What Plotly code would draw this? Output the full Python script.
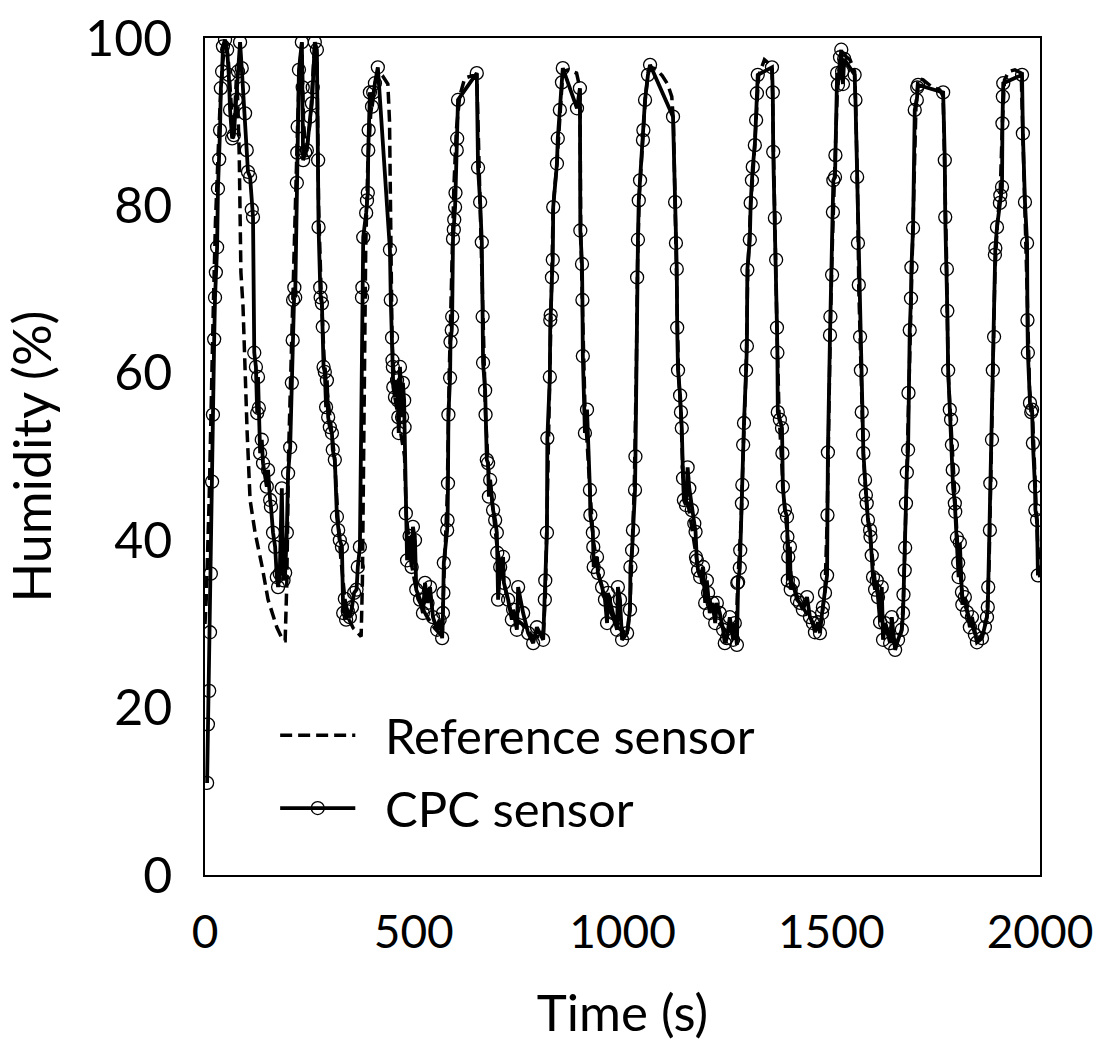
import plotly.graph_objects as go

# ---------------- data ----------------
ref_time = [0, 3, 10, 15, 20, 25, 30, 36, 42, 48, 55, 62, 68, 75, 78, 82, 86, 91, 96, 101, 108, 120, 137,
            151, 172, 187, 192, 196, 200, 206, 212, 218, 222, 226, 232, 236, 242, 252, 258, 263, 268,
            272, 278, 285, 292, 300, 310, 318, 325, 335, 345, 355, 365, 374, 377, 381, 385, 390, 397, 405, 414,
            425, 438, 442, 445, 448, 455, 465, 478, 482, 495, 510, 530, 550, 568, 572, 580, 585, 590, 596, 602,
            610, 622, 640, 651, 656, 662, 666, 672, 678, 690, 700, 715, 735, 760, 785, 810, 815, 820, 826, 830,
            834, 843, 850, 857, 870, 890, 898, 900, 904, 910, 922, 930, 945, 965, 990, 1012, 1018, 1022, 1028,
            1033, 1036, 1040, 1048, 1055, 1062, 1068, 1080, 1095, 1108, 1118, 1122, 1126, 1130, 1134, 1140, 1145,
            1155, 1168, 1180, 1200, 1225, 1250, 1272, 1276, 1284, 1290, 1296, 1300, 1307, 1314, 1320, 1326, 1340,
            1350, 1358, 1361, 1365, 1370, 1375, 1385, 1395, 1405, 1425, 1450, 1470, 1478, 1485, 1490, 1494, 1498,
            1503, 1508, 1514, 1521, 1530, 1545, 1556, 1559, 1563, 1566, 1571, 1577, 1585, 1595, 1605, 1620, 1640,
            1655, 1668, 1673, 1677, 1681, 1686, 1690, 1694, 1698, 1703, 1708, 1720, 1740, 1760, 1768, 1772, 1776,
            1780, 1788, 1795, 1803, 1815, 1835, 1850, 1865, 1873, 1878, 1882, 1887, 1892, 1898, 1905, 1910, 1915,
            1925, 1940, 1955, 1958, 1963, 1969, 1975, 1982, 1988, 1994, 2000]
ref_humidity = [30, 33, 45, 58, 68, 78, 85, 92, 97, 99, 98, 92, 88, 95, 93, 86, 72, 68, 60, 52.8, 44.8, 40.9, 36.8,
                32.9, 29.6, 28, 28, 35, 50, 62, 70, 83, 90, 96, 99.5, 90, 86, 90, 95, 99.5, 98,
                80, 70, 62, 58, 54, 50, 43, 38, 33, 30.5, 29.5, 29, 28.5, 35, 60, 75, 85, 91, 94, 96,
                95.5, 94.5, 90, 75, 64, 57, 54, 50, 43, 37, 33, 31, 29.5, 28.5, 35, 45, 60, 70, 82, 89,
                93, 95.2, 95.5, 95.5, 85, 75, 64, 55, 49, 43.5, 39, 35, 31, 30, 28.5, 28.5, 33, 45, 60, 70,
                80, 85, 91, 96, 96.2, 95.8, 94, 77, 68, 56, 46, 40, 35.5, 32, 29.5, 28.8, 32, 38, 46,
                60, 73, 81, 88, 93, 96, 96.5, 96.3, 95.5, 94.5, 93, 90, 80, 70, 60, 55, 47.5,
                45, 41, 37, 33.5, 30.5, 29, 28.5, 35, 42, 52, 60, 72, 80, 85, 90, 95.5, 97.4,
                97, 96.5, 86, 78, 65, 55, 46, 40, 35, 32.5, 30.5, 29, 31, 34, 42, 55, 66,
                76, 84, 93, 97.7, 98, 97.4, 96, 91, 82, 70, 60, 50, 44, 39.5, 35, 31.5, 28.5,
                27.5, 29, 33, 39, 48, 58, 67, 74, 85, 92, 95.2, 95, 94.2, 93.8, 93, 85, 74,
                60, 52, 45, 39, 33, 30, 28, 29, 31, 37, 47, 59, 72, 78, 82, 90, 95,
                96, 96.2, 95.8, 89, 81, 70, 58, 55, 46.5, 40, 35]

cpc_time = [5, 7, 10, 12, 14, 17, 19, 22, 24, 26, 29, 31, 34, 36, 38, 41, 43, 48, 53, 57, 60, 65, 69, 74, 79, 84,
            88, 91, 96, 100, 103, 108, 112, 115, 118, 122, 125, 127, 129, 132, 136, 139, 148, 151, 156, 158, 163,
            168, 172, 175, 179, 184, 188, 192, 196, 199, 204, 208, 210, 211,
            214, 216, 220, 221, 222, 225, 232, 234, 235, 240, 244, 252, 256, 258, 263, 268, 271, 272, 276, 277,
            280, 282, 284, 287, 290, 292, 295, 299, 304, 306, 311, 316, 319, 323, 328,
            331, 335, 338, 342, 347, 352, 357, 363, 366, 371,
            376, 377, 379, 386, 388, 390, 391, 392, 395, 400, 403, 407, 414,
            443, 445, 448, 449, 450, 451, 455, 460, 462, 463, 464, 467, 472, 474, 477, 478, 481, 484, 490, 495,
            498, 503, 506, 515, 522, 527, 533, 539, 546, 556, 562, 568, 570, 571, 572, 580, 581, 582, 583, 587,
            588, 591, 592,
            594, 596, 597, 599, 600, 603, 604, 606, 651,
            654, 659, 663, 665, 666, 671, 672, 675, 678, 680, 683, 690, 695, 699, 700, 702, 707, 714, 716, 726,
            735, 738, 747, 750, 762, 774, 786, 795, 810, 814, 815, 819, 820, 826, 827, 828,
            831, 833, 834, 843, 845, 850, 855, 857, 891, 898, 899, 903, 904, 905, 910, 915, 922, 923, 929, 930,
            931, 939, 941, 951, 958, 963, 965, 977, 987, 989, 994, 999, 1011, 1018, 1019, 1023, 1025, 1030,
            1031, 1035, 1037, 1039, 1042, 1049, 1050, 1054, 1061, 1066,
            1121, 1126, 1128, 1130, 1131, 1133, 1138, 1140, 1142, 1145, 1147, 1152, 1156, 1160, 1166, 1172,
            1175, 1176, 1178, 1181, 1186, 1193, 1198, 1202, 1205, 1209, 1216, 1222, 1226, 1233, 1241, 1245,
            1250, 1257, 1265, 1269, 1274, 1275, 1277, 1281, 1282, 1286, 1287, 1289, 1291, 1296, 1298, 1299,
            1305, 1307, 1310, 1312, 1317, 1320, 1322, 1324, 1358,
            1360, 1361, 1365, 1368, 1370, 1371, 1372, 1377, 1382, 1383, 1384, 1389, 1394, 1395, 1396, 1397,
            1401, 1403, 1408, 1418, 1425, 1432, 1442, 1449, 1456, 1461, 1468, 1473, 1478, 1480, 1485, 1490,
            1491, 1492, 1497, 1498, 1502, 1504, 1505, 1509, 1510, 1514, 1516, 1521, 1524, 1526, 1528, 1531,
            1556, 1558, 1562, 1564, 1566, 1569, 1571, 1573, 1576, 1577, 1581, 1583, 1585, 1588, 1593, 1594,
            1597, 1600, 1605, 1609, 1612, 1617, 1621, 1624, 1629, 1641, 1645, 1653, 1660, 1669, 1672, 1673,
            1676, 1677, 1679, 1681, 1684, 1685, 1688, 1691, 1692, 1696, 1700, 1705, 1706, 1708, 1768,
            1772, 1773, 1777, 1778, 1780, 1784, 1787, 1789, 1791, 1792, 1796, 1797, 1801, 1804, 1805, 1808,
            1813, 1814, 1820, 1825, 1832, 1837, 1844, 1849, 1861, 1868, 1873, 1875, 1876, 1880, 1881, 1885,
            1887, 1890, 1892, 1893, 1897, 1904, 1905, 1909, 1910, 1911, 1912, 1957,
            1959, 1964, 1969, 1970, 1971, 1976, 1979, 1981, 1983, 1988, 1989, 1993, 1995]
cpc_humidity = [11, 18, 22, 29, 36, 47, 55, 64, 69, 72, 75, 82, 85.5, 89, 94, 96, 99, 99.8, 98.6, 95.6, 91.4, 88,
                88.4, 92.6, 96, 99.5, 96.4, 94, 91, 86.6, 84, 83.4, 79.5, 78.6, 62.4, 60.7, 55.2, 59.5, 55.8,
                50.4, 52, 49.2, 46.4, 48.4, 44.8, 44, 40.9, 39.2, 35.6, 34.4, 36, 46.2, 35.2, 36.1, 40.9, 48,
                51.1, 58.8, 63.9, 68.7,
                70.2, 69, 82.7, 86.3, 89.4, 96.2, 99.5, 94.1, 85.4, 86.3, 86.6, 90.6, 92.2, 94.1, 99.5, 98.6,
                85.4, 77.4, 70.2, 69, 68.3, 65.5, 60.7, 60.1, 55.9, 59.1, 54.7, 53.5, 52.8, 50.8, 49.6, 42.8,
                41.2, 40, 39.2,
                31.3, 33, 30.5, 31.5, 30.8, 32, 33.7, 34.1, 36.8, 39.2,
                69, 70.2, 76.2, 79.1, 80.6, 81.5, 86.6, 89, 93.5, 91.8, 93.5, 94.6, 96.5,
                74.7, 68.7, 64.2, 61.5, 60.7, 58.3, 57.1, 59.1, 56.7, 54.7, 52.8, 60.7, 54.7, 58.8, 56.7, 53.5,
                43.2, 37.6, 40.5, 36.8, 41.6, 40, 34.1, 32.9, 31.3, 34.9, 32.5, 34.4, 30.8, 29.3, 30.5, 28.3,
                31.3, 33.7, 37.3, 41.2, 42.4, 46.8, 55, 59.4, 63.7, 65.1, 66.7,
                76, 77.1, 78.3, 79.8, 81.5, 86.6, 88, 92.6, 95.8,
                84.5, 80.4, 75.6, 66.7, 61.2, 57.9, 55, 49.6, 49.2, 45.2, 47.2, 43.6, 42.4, 40.9, 38.5, 32.9,
                36.8, 38, 34.9, 32.9, 30.5, 31.7, 29.3, 34.4, 31.3, 28.9, 27.7, 29.6, 28.1, 32.9, 35.2, 40.9,
                52.2, 59.5, 66.3, 66.9,
                71.4, 73.5, 79.8, 85, 88, 91.4, 94.7, 96.4, 91.6, 94, 77, 73, 68.7, 62, 52.8, 55.6, 46, 43,
                40.9, 39.2, 36.8, 38, 36.1, 34.4, 32.9, 30.1, 33.7, 31.3, 29.3, 34.4, 32.9, 28.1, 28.9, 31.7,
                36.8, 38.8, 41.2, 46, 50, 71.4, 75.9, 80.6, 83, 87.8, 89, 92.6, 95.6, 96.8,
                90.6, 80.4, 75.5, 72.4, 65.4, 60.3, 57.3, 55.3, 53.4, 47.4, 44.8, 44.2, 48.7, 46.2, 43.6, 42,
                41, 38, 37.6, 36.4, 35.6, 36.8, 32.5, 35.2, 33.7, 31.3, 32.5, 30.1, 32.5, 31.3, 29.3, 27.7,
                28.3, 30.8, 28.1, 30.1, 27.5, 34.9, 35, 36.7, 38.8, 44.4, 46.6, 51.4, 54, 60.3, 63.2, 72.3,
                75.9, 80.3, 83, 84.6, 87.2, 90.2, 93.4, 95.6, 96.5,
                93.5, 86.4, 78.5, 73.5, 65.4, 62.4, 55.3, 54.4, 53.4, 50.4, 46.4, 43.6, 42.8, 40.4, 35.2, 38,
                39.2, 34.1, 34.9, 32.9, 32.5, 31.7, 33.2, 30.8, 30.1, 29, 30.2, 28.9, 31.3, 32, 33.7, 35.8,
                43, 50.5, 64.5, 66.7, 71.7, 79.2, 83, 83.4, 86, 95.8, 94.4, 97.7, 98.6, 96, 94.5, 97.5,
                95.6, 92.6, 83.4, 75.5, 70.5, 64.3, 60.3, 55.3, 52.6, 50.4, 47.2, 45.4, 44.4, 42.4, 41.2, 40.4,
                38.2, 35.6, 34.1, 35.2, 33.2, 30.2, 34.4, 28.1, 30.1, 27.7, 30.8, 26.9, 28.1, 29.3, 31.3, 33.5,
                36.4, 39.1, 44.4, 48.1, 50.8, 57.6, 65.1, 68.9, 72.6, 77.3, 91.4, 92.6, 94.1, 94.4, 93.5,
                85.4, 78.6, 72.4, 67.4, 60.3, 55.6, 54.4, 51.4, 48.4, 46.2, 44.4, 43.4, 40.3, 37.3, 35.6, 39.7,
                33.8, 32.3, 33.2, 31.4, 29.6, 30.8, 28.7, 27.8, 28.3, 29.6, 30.8, 32, 34.4, 41.2, 46.8, 52,
                60.3, 64.3, 74.1, 74.9, 77.4, 80.3, 81.2, 82.2, 89.8, 93, 94.6, 95.6,
                88.6, 80.4, 75.5, 66.3, 62.4, 56.4, 55.3, 55.6, 51.6, 46.4, 43.6, 42.4, 35.8]

x_ticks = [0, 500, 1000, 1500, 2000]
y_ticks = [0, 20, 40, 60, 80, 100]
series_names = ["Reference sensor", "CPC sensor"]

FONT = "Lato"
DASH = "12px,6px"

fig = go.Figure()
fig.add_trace(go.Scatter(x=ref_time, y=ref_humidity, mode="lines", name=series_names[0],
                         line=dict(color="black", width=3.5, dash=DASH), showlegend=False))
fig.add_trace(go.Scatter(x=cpc_time, y=cpc_humidity, mode="lines+markers", name=series_names[1],
                         line=dict(color="black", width=3.8),
                         marker=dict(symbol="circle-open", size=13, color="black", line=dict(width=1.3)),
                         showlegend=False))

# manual legend (paper coordinates)
leg_x0, leg_x1, leg_txt = 0.09, 0.18, 0.213
leg_y = [0.167, 0.080]
fig.add_shape(type="line", xref="paper", yref="paper", x0=leg_x0, x1=leg_x1, y0=leg_y[0], y1=leg_y[0],
              line=dict(color="black", width=3.5, dash=DASH))
fig.add_shape(type="line", xref="paper", yref="paper", x0=leg_x0, x1=leg_x1, y0=leg_y[1], y1=leg_y[1],
              line=dict(color="black", width=3.8))
fig.add_trace(go.Scatter(x=[(leg_x0 + leg_x1) / 2], y=[leg_y[1]], xaxis="x2", yaxis="y2", mode="markers",
                         marker=dict(symbol="circle-open", size=13, color="black", line=dict(width=1.3)),
                         showlegend=False, hoverinfo="skip"))
for yy, nm in zip(leg_y, series_names):
    fig.add_annotation(xref="paper", yref="paper", x=leg_txt, y=yy, text=nm, showarrow=False,
                       xanchor="left", yanchor="middle", font=dict(family=FONT, size=49, color="black"))

axis_common = dict(showline=True, mirror=True, linecolor="black", linewidth=1.5, showgrid=False,
                   zeroline=False, automargin=False, ticklabeloverflow="allow")
fig.update_layout(
    width=1096, height=1045,
    margin=dict(l=205, r=56, t=38, b=170),
    paper_bgcolor="white", plot_bgcolor="white",
    xaxis=dict(range=[0, 2000], tickvals=x_ticks, ticks="outside", ticklen=16, tickcolor="rgba(0,0,0,0)",
               tickfont=dict(family=FONT, size=46, color="black"),
               title=dict(text="Time (s)", font=dict(family=FONT, size=51, color="black"), standoff=38),
               **axis_common),
    yaxis=dict(range=[0, 100], tickvals=y_ticks, ticks="outside", ticklen=21, tickcolor="rgba(0,0,0,0)",
               tickfont=dict(family=FONT, size=50, color="black"),
               title=dict(text="Humidity (%)", font=dict(family=FONT, size=52, color="black"), standoff=20),
               **axis_common),
    xaxis2=dict(range=[0, 1], domain=[0, 1], overlaying="x", visible=False),
    yaxis2=dict(range=[0, 1], domain=[0, 1], overlaying="y", visible=False),
)

fig.write_html("out.html", config={"displayModeBar": False},
               post_script="document.body.style.margin='0';document.body.style.overflow='hidden';")
